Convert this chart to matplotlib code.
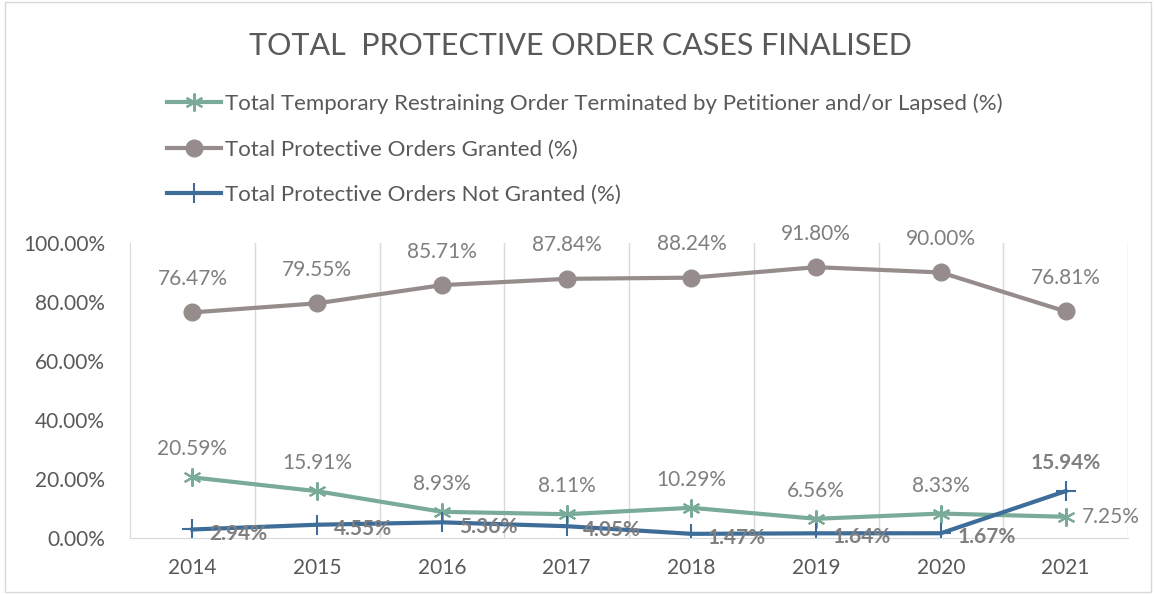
import matplotlib.pyplot as plt
from matplotlib.patches import Rectangle

years = ["2014", "2015", "2016", "2017", "2018", "2019", "2020", "2021"]
temp_lapsed = [20.59, 15.91, 8.93, 8.11, 10.29, 6.56, 8.33, 7.25]
granted = [76.47, 79.55, 85.71, 87.84, 88.24, 91.80, 90.00, 76.81]
not_granted = [2.94, 4.55, 5.36, 4.05, 1.47, 1.64, 1.67, 15.94]

green = "#7aab98"
mauve = "#968c8c"
blue = "#3d6d98"
txt = "#595959"
lbl = "#7f7f7f"

plt.rcParams["font.family"] = ["Lato", "DejaVu Sans"]

fig = plt.figure(figsize=(11.56, 5.94), dpi=100)
ax = fig.add_axes([0.1125, 0.094, 0.8633, 0.497])
fig.patches.append(Rectangle((0.004, 0.004), 0.992, 0.992, transform=fig.transFigure,
                             fill=False, edgecolor="#d9d9d9", linewidth=1))

x = list(range(len(years)))
l1, = ax.plot(x, temp_lapsed, color=green, lw=3, marker=(6, 2, 0), ms=13, mew=1.5,
              label="Total Temporary Restraining Order Terminated by Petitioner and/or Lapsed (%)")
l2, = ax.plot(x, granted, color=mauve, lw=3, marker="o", ms=12,
              label="Total Protective Orders Granted (%)")
l3, = ax.plot(x, not_granted, color=blue, lw=3, marker="+", ms=14, mew=1.5,
              label="Total Protective Orders Not Granted (%)")

ax.set_xlim(-0.5, len(years) - 0.5)
ax.set_ylim(0, 100)
ax.set_yticks([0, 20, 40, 60, 80, 100])
ax.set_yticklabels(["%.2f%%" % v for v in [0, 20, 40, 60, 80, 100]], fontsize=15, color=txt)
ax.set_xticks(x)
ax.set_xticklabels(years, fontsize=15, color=txt)
ax.tick_params(length=0, pad=14)
ax.tick_params(axis="y", pad=18)

for b in [i + 0.5 for i in x]:
    ax.axvline(b, color="#d9d9d9", lw=1, zorder=0)
for s in ["top", "right"]:
    ax.spines[s].set_visible(False)
for s in ["left", "bottom"]:
    ax.spines[s].set_color("#d9d9d9")

for i, v in enumerate(granted):
    ax.annotate("%.2f%%" % v, (i, v), xytext=(0, 17), textcoords="offset points",
                ha="center", va="bottom", fontsize=15, color=lbl)
for i, v in enumerate(temp_lapsed):
    if i == len(years) - 1:
        ax.annotate("%.2f%%" % v, (i, v), xytext=(12, 0), textcoords="offset points",
                    ha="left", va="center", fontsize=15, color=lbl)
    else:
        ax.annotate("%.2f%%" % v, (i, v), xytext=(0, 13), textcoords="offset points",
                    ha="center", va="bottom", fontsize=15, color=lbl)
for i, v in enumerate(not_granted):
    if i == len(years) - 1:
        ax.annotate("%.2f%%" % v, (i, v), xytext=(0, 13), textcoords="offset points",
                    ha="center", va="bottom", fontsize=15, color=lbl, fontweight="bold")
    else:
        ax.annotate("%.2f%%" % v, (i, v), xytext=(12, -3), textcoords="offset points",
                    ha="left", va="center", fontsize=15, color=lbl, fontweight="bold")

fig.text(0.502, 0.922, "TOTAL  PROTECTIVE ORDER CASES FINALISED", ha="center", va="center",
         fontsize=22, color=txt)
fig.legend(handles=[l1, l2, l3], loc="upper left", bbox_to_anchor=(0.137, 0.858),
           frameon=False, fontsize=16, labelcolor=txt, handlelength=2.4,
           labelspacing=1.15, handletextpad=0.2, borderaxespad=0)

plt.savefig("out.png")
